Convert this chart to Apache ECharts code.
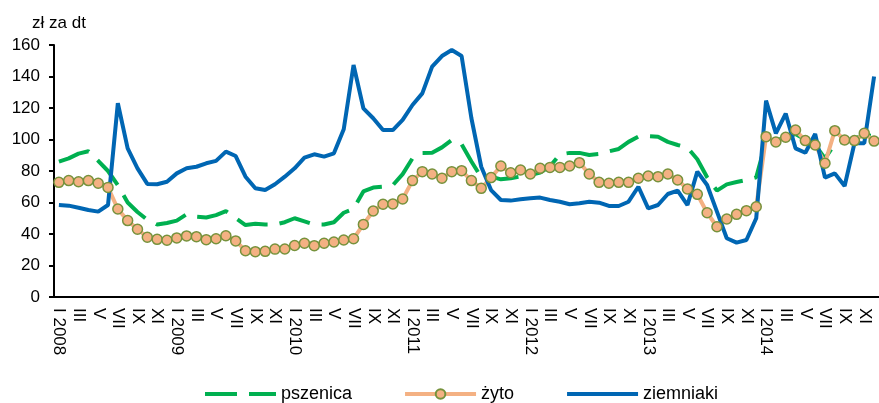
<!DOCTYPE html>
<html>
<head>
<meta charset="utf-8">
<title>Ceny: pszenica, żyto, ziemniaki</title>
<script src="https://cdn.jsdelivr.net/npm/echarts@6/dist/echarts.min.js"></script>
<style>
html, body {
	margin: 0;
	padding: 0;
	background: #fff;
}
#chart {
	width: 879px;
	height: 403px;
}
</style>
</head>
<body>
<div id="chart"></div>
<script type="text/javascript">
    // miesiące i lata na osi X
    var months = ['I', 'II', 'III', 'IV', 'V', 'VI', 'VII', 'VIII', 'IX', 'X', 'XI', 'XII'];
    var years = [2008, 2009, 2010, 2011, 2012, 2013, 2014];

    // zł za dt, od I 2008 do XII 2014
    var pszenica = [
        86, 88, 91, 92.5, 86.5, 80, 71, 60, 54, 49, 46, 47,
        48.5, 52.5, 51, 50.5, 52, 54.5, 50, 45.7, 46.5, 46, 46, 47.5,
        50, 48, 46, 46, 47.5, 53.5, 56, 67, 69.5, 70, 71, 78,
        88, 91.5, 91.6, 95, 99.7, 97, 86, 76, 76.4, 74.7, 75.4, 76.5,
        77.5, 79, 83, 90.5, 91.5, 91.5, 90.2, 90.8, 92.5, 94, 98.5, 101.8,
        102.2, 101.8, 98.5, 96.5, 94.8, 87.5, 76, 67.5, 71.5, 73, 74.3, 76,
        99, 99.5, 101, 103.5, 100, 96.5, 88, 97, 99, 100.5, 103, 102
    ];
    var zyto = [
        72.8, 73.9, 73.2, 73.9, 72.2, 69.6, 55.9, 48.5, 43.0, 37.9, 36.6, 36.0,
        37.5, 38.8, 38.3, 36.4, 37.0, 38.9, 35.6, 29.4, 28.8, 29.0, 30.4, 30.5,
        32.7, 34.1, 32.6, 34.1, 34.9, 36.2, 37.0, 46.1, 54.6, 58.9, 59.1, 62.2,
        73.9, 79.6, 78.1, 75.4, 79.6, 80.2, 73.9, 69.0, 75.8, 83.2, 78.9, 80.6,
        78.1, 81.7, 82.3, 82.3, 83.2, 85.3, 78.1, 72.8, 72.2, 72.8, 72.8, 75.4,
        76.8, 76.4, 78.1, 74.3, 68.6, 65.2, 53.5, 44.6, 49.5, 52.5, 54.8, 57.3,
        101.8, 98.4, 101.4, 106.0, 99.3, 96.5, 84.9, 105.6, 99.7, 99.3, 103.9, 99
    ];
    var ziemniaki = [
        58.4, 58, 56.7, 55.2, 54.2, 58.4, 123, 94.4, 81.7, 71.8, 71.6, 73.2,
        78.5, 81.7, 82.7, 84.9, 86.4, 92.3, 89.5, 76.4, 69, 67.9, 71.6, 76.4,
        81.7, 88.5, 90.6, 89.1, 91.2, 106.5, 147.3, 119.8, 113.5, 106, 106, 112.4,
        121.9, 129.3, 146.3, 153, 156.8, 153, 113.5, 82.7, 67.9, 61.6, 61.2, 62,
        62.7, 63.1, 61.6, 60.5, 58.9, 59.5, 60.5, 59.9, 57.8, 57.8, 60.5, 70,
        56.3, 58.4, 65.4, 67.5, 58.4, 79.6, 71.1, 54.2, 37.3, 34.5, 36.2, 50,
        124.7, 103.9, 116.4, 94.4, 91.6, 103.5, 75.8, 78.5, 70.5, 97.6, 97.6, 140
    ];

    var categories = [];
    years.forEach(function (y) {
        months.forEach(function (m, k) {
            categories.push(k === 0 ? m + ' ' + y : m);
        });
    });

    var font = "'Liberation Sans', Arial, sans-serif";
    var myChart = echarts.init(document.getElementById('chart'));

    var option = {
        animation: false,
        textStyle: {fontFamily: font, color: '#000'},
        title: {
            text: 'zł za dt',
            left: 27,
            top: 10,
            textStyle: {fontFamily: font, fontSize: 17, fontWeight: 'normal', color: '#000'}
        },
        legend: {
            left: 198,
            top: 380,
            itemWidth: 71,
            itemHeight: 12,
            itemGap: 51,
            textStyle: {fontFamily: font, fontSize: 18, color: '#000'},
            data: [
                {name: 'pszenica', itemStyle: {opacity: 0}, lineStyle: {width: 4}},
                {name: 'żyto', lineStyle: {width: 4}},
                {name: 'ziemniaki', itemStyle: {opacity: 0}, lineStyle: {width: 4}}
            ]
        },
        grid: {left: 54, right: -8, top: 45, bottom: 106, containLabel: false},
        xAxis: {
            type: 'category',
            data: categories,
            boundaryGap: true,
            axisLine: {lineStyle: {color: '#000', width: 2}},
            axisTick: {interval: 0, length: 6, lineStyle: {color: '#000', width: 2}},
            axisLabel: {
                interval: 1,
                rotate: -90,
                margin: 11,
                fontSize: 17,
                color: '#000',
                fontFamily: font
            },
            splitLine: {show: false}
        },
        yAxis: {
            type: 'value',
            min: 0,
            max: 160,
            interval: 20,
            axisLine: {show: true, lineStyle: {color: '#000', width: 2}},
            axisTick: {show: true, length: 5, lineStyle: {color: '#000', width: 2}},
            axisLabel: {margin: 14, fontSize: 17, color: '#000', fontFamily: font},
            splitLine: {show: false}
        },
        series: [{
            name: 'pszenica',
            type: 'line',
            symbol: 'none',
            data: pszenica,
            lineStyle: {color: '#00B050', width: 4, type: [32, 12]},
            itemStyle: {color: '#00B050'}
        }, {
            name: 'żyto',
            type: 'line',
            symbol: 'circle',
            symbolSize: 10,
            showAllSymbol: true,
            data: zyto,
            lineStyle: {color: '#F4B183', width: 4},
            itemStyle: {color: '#F4B183', borderColor: '#76923C', borderWidth: 1.5}
        }, {
            name: 'ziemniaki',
            type: 'line',
            symbol: 'none',
            data: ziemniaki,
            lineStyle: {color: '#0066B3', width: 4},
            itemStyle: {color: '#0066B3'}
        }]
    };

    myChart.setOption(option);
</script>
</body>
</html>
